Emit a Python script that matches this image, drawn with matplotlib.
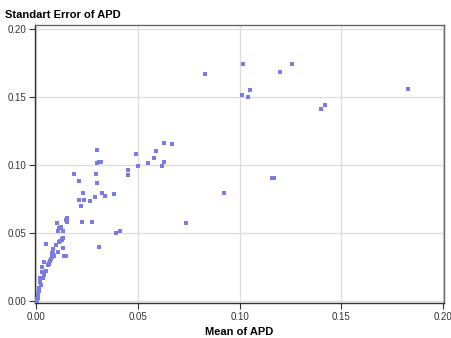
import matplotlib.pyplot as plt

# mean of APD vs its standard error
mean_apd = [
    0.083, 0.1017, 0.101, 0.104, 0.105, 0.120, 0.126, 0.140, 0.142, 0.183,
    0.0924, 0.0736, 0.116, 0.117,
    0.063, 0.067, 0.058, 0.059, 0.063, 0.062, 0.055, 0.049, 0.050, 0.045, 0.0449,
    0.030, 0.030, 0.031, 0.032,
    0.0183, 0.0211, 0.0293, 0.030,
    0.0232, 0.0208, 0.0234, 0.0264, 0.029, 0.0324, 0.0336, 0.0382, 0.0221,
    0.0224, 0.0273, 0.0392, 0.0411, 0.031,
    0.0149, 0.0145, 0.015, 0.0103, 0.0111, 0.0121, 0.0108, 0.013,
    0.0047, 0.0126, 0.0128, 0.0133, 0.0118, 0.0113, 0.0096, 0.0080, 0.0132,
    0.0106, 0.0078, 0.0080, 0.0138, 0.0145, 0.0085, 0.0076,
    0.0070, 0.0066, 0.0063, 0.0060, 0.0059, 0.0037, 0.0030, 0.0047, 0.0030,
    0.0039, 0.0023, 0.0020, 0.0031, 0.0020, 0.0017, 0.0021,
    0.0015, 0.0013, 0.0011, 0.0008, 0.0006, 0.0007, 0.0003, 0.0002,
]
se_apd = [
    0.167, 0.174, 0.151, 0.150, 0.155, 0.168, 0.174, 0.141, 0.144, 0.156,
    0.0794, 0.0573, 0.090, 0.090,
    0.116, 0.115, 0.105, 0.110, 0.102, 0.099, 0.101, 0.108, 0.099, 0.0924, 0.096,
    0.111, 0.101, 0.102, 0.102,
    0.0934, 0.088, 0.093, 0.0865,
    0.079, 0.074, 0.074, 0.0735, 0.0765, 0.0794, 0.077, 0.0784, 0.070,
    0.0578, 0.0578, 0.0499, 0.0511, 0.0396,
    0.061, 0.0597, 0.058, 0.0573, 0.0538, 0.054, 0.0516, 0.0509,
    0.0415, 0.0455, 0.0445, 0.046, 0.044, 0.043, 0.0413, 0.038, 0.039,
    0.0356, 0.0354, 0.034, 0.0332, 0.0332, 0.033, 0.0325,
    0.031, 0.029, 0.028, 0.027, 0.026, 0.0283, 0.0246, 0.0221, 0.021,
    0.019, 0.0165, 0.017, 0.017, 0.015, 0.014, 0.0115,
    0.009, 0.0085, 0.007, 0.005, 0.003, 0.002, 0.001, 0.0,
]

x_ticks = [0.00, 0.05, 0.10, 0.15, 0.20]
y_ticks = [0.00, 0.05, 0.10, 0.15, 0.20]

plt.rcParams['font.family'] = ['Liberation Sans', 'DejaVu Sans']

fig = plt.figure(figsize=(4.51, 3.38), dpi=100)
ax = fig.add_axes([0.0769, 0.1027, 0.9076, 0.8224])

ax.scatter(mean_apd, se_apd, marker="s", s=5, color="#7b7be6",
           linewidths=0, zorder=3)

ax.set_xlim(-0.0008, 0.2006)
ax.set_ylim(-0.0019, 0.2025)
ax.set_xticks(x_ticks)
ax.set_yticks(y_ticks)
ax.set_xticklabels([f"{t:.2f}" for t in x_ticks])
ax.set_yticklabels([f"{t:.2f}" for t in y_ticks])
ax.tick_params(labelsize=7, colors="#333333", length=4, width=0.8,
               direction="out", pad=2)

ax.grid(True, color="#dcdcdc", linewidth=0.9)
ax.set_axisbelow(True)

for side in ["left", "bottom"]:
    ax.spines[side].set_color("#333333")
    ax.spines[side].set_linewidth(1.0)
for side in ["top", "right"]:
    ax.spines[side].set_color("#666666")
    ax.spines[side].set_linewidth(1.0)

ax.set_xlabel("Mean of APD", fontsize=8, fontweight="bold", labelpad=4)
fig.text(0.012, 0.955, "Standart Error of APD", fontsize=8,
         fontweight="bold", ha="left", va="center")

fig.savefig("out.png", dpi=100)
